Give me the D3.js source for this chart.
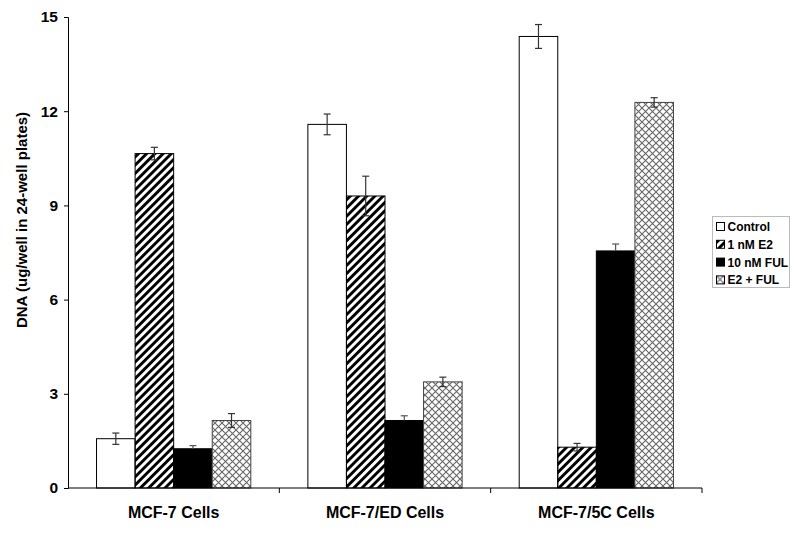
<!DOCTYPE html>
<html>
<head>
<meta charset="utf-8">
<script src="https://cdn.jsdelivr.net/npm/d3@7"></script>
<style>
  body { margin: 0; background: #fff; }
  text { font-family: "Liberation Sans", Arial, sans-serif; font-weight: bold; }
</style>
</head>
<body>
<div id="chart"></div>
<script>
// Data
var cellLines = ["MCF-7 Cells", "MCF-7/ED Cells", "MCF-7/5C Cells"];
var treatments = ["Control", "1 nM E2", "10 nM FUL", "E2 + FUL"];
var controlVals = [1.57, 11.58, 14.38];
var e2Vals = [10.65, 9.30, 1.30];
var fulVals = [1.25, 2.15, 7.55];
var e2fulVals = [2.15, 3.38, 12.28];
var controlErr = [0.18, 0.33, 0.38];
var e2Err = [0.2, 0.63, 0.12];
var fulErr = [0.1, 0.15, 0.22];
var e2fulErr = [0.22, 0.15, 0.15];
var yTicks = [0, 3, 6, 9, 12, 15];

var seriesVals = [controlVals, e2Vals, fulVals, e2fulVals];
var seriesErr = [controlErr, e2Err, fulErr, e2fulErr];
var fills = ["#fff", "url(#hatch)", "#000", "url(#cross)"];

var svgWidth = 800;
var svgHeight = 533;
var margin = { top: 17, right: 98, bottom: 45, left: 68 };
var width = svgWidth - margin.left - margin.right;
var height = svgHeight - margin.top - margin.bottom;

var root = d3.select("#chart")
    .append("svg")
        .attr("width", svgWidth)
        .attr("height", svgHeight);

// fill patterns
var defs = root.append("defs");
defs.append("pattern")
    .attr("id", "hatch")
    .attr("patternUnits", "userSpaceOnUse")
    .attr("width", 5.8).attr("height", 5.8)
    .attr("patternTransform", "rotate(45)")
  .append("rect")
    .attr("x", 0).attr("y", 0)
    .attr("width", 2.9).attr("height", 5.8)
    .attr("fill", "#000");
var cross = defs.append("pattern")
    .attr("id", "cross")
    .attr("patternUnits", "userSpaceOnUse")
    .attr("width", 7).attr("height", 7);
cross.append("rect").attr("width", 7).attr("height", 7).attr("fill", "#fff");
cross.append("path")
    .attr("d", "M0,0L7,7M7,0L0,7")
    .attr("stroke", "#666")
    .attr("stroke-width", 1.1);

var svg = root.append("g")
    .attr("transform", `translate(${margin.left}, ${margin.top})`);

// scales
var x0 = d3.scaleBand()
    .domain(cellLines)
    .range([0, width])
    .paddingInner(0.27)
    .paddingOuter(0.135);
var x1 = d3.scaleBand()
    .domain(d3.range(treatments.length))
    .range([0, x0.bandwidth()]);
var y = d3.scaleLinear()
    .domain([0, 15])
    .range([height, 0]);

// y axis
var yAxis = svg.append("g")
    .call(d3.axisLeft(y).tickValues(yTicks).tickSize(4).tickPadding(6));
yAxis.selectAll("text").style("font-size", "15.5px").attr("fill", "#000");
yAxis.select(".domain").attr("stroke", "#000");

svg.append("text")
    .attr("transform", "rotate(-90)")
    .attr("x", -(203))
    .attr("y", -41)
    .attr("text-anchor", "middle")
    .style("font-size", "15px")
    .text("DNA (ug/well in 24-well plates)");

// bars
seriesVals.forEach(function(vals, s) {
    var g = svg.append("g");
    g.selectAll("rect")
        .data(vals)
        .enter()
        .append("rect")
        .attr("x", function(d, i) { return x0(cellLines[i]) + x1(s); })
        .attr("y", function(d) { return y(d); })
        .attr("width", x1.bandwidth())
        .attr("height", function(d) { return height - y(d); })
        .attr("fill", fills[s])
        .attr("stroke", s == 3 ? "#444" : "#000")
        .attr("stroke-width", 1);

    // error bars
    var cx = function(i) { return x0(cellLines[i]) + x1(s) + x1.bandwidth() / 2; };
    vals.forEach(function(d, i) {
        var e = seriesErr[s][i];
        var c = cx(i);
        var color = s == 2 ? "#555" : "#333";
        var lo = s == 2 ? d : d - e;
        g.append("line")
            .attr("x1", c).attr("x2", c)
            .attr("y1", y(d + e)).attr("y2", y(lo))
            .attr("stroke", color).attr("stroke-width", 1.2);
        g.append("line")
            .attr("x1", c - 3.5).attr("x2", c + 3.5)
            .attr("y1", y(d + e)).attr("y2", y(d + e))
            .attr("stroke", color).attr("stroke-width", 1.2);
        if (s != 2) {
            g.append("line")
                .attr("x1", c - 3.5).attr("x2", c + 3.5)
                .attr("y1", y(d - e)).attr("y2", y(d - e))
                .attr("stroke", color).attr("stroke-width", 1.2);
        }
    });
});

// x axis with ticks at category boundaries
var xg = svg.append("g")
    .attr("transform", "translate(0," + height + ")");
xg.append("line")
    .attr("x1", 0).attr("x2", width)
    .attr("stroke", "#000");
xg.selectAll(".bound")
    .data(cellLines)
    .enter()
    .append("line")
    .attr("x1", function(d) { return x0(d) + x0.bandwidth() + x0.step() * 0.135; })
    .attr("x2", function(d) { return x0(d) + x0.bandwidth() + x0.step() * 0.135; })
    .attr("y1", 0).attr("y2", 5)
    .attr("stroke", "#000");
xg.selectAll(".cat")
    .data(cellLines)
    .enter()
    .append("text")
    .attr("x", function(d) { return x0(d) + x0.bandwidth() / 2; })
    .attr("y", 30)
    .attr("text-anchor", "middle")
    .style("font-size", "16px")
    .text(function(d) { return d; });

// legend
var legend = root.append("g")
    .attr("transform", "translate(712.5, 216.5)");
legend.append("rect")
    .attr("width", 77).attr("height", 71)
    .attr("fill", "#fff")
    .attr("stroke", "#bbb");
treatments.forEach(function(t, i) {
    var row = legend.append("g")
        .attr("transform", "translate(4," + (6 + i * 17.8) + ")");
    row.append("rect")
        .attr("width", 8).attr("height", 8)
        .attr("fill", fills[i])
        .attr("stroke", "#000");
    row.append("text")
        .attr("x", 11).attr("y", 8.5)
        .style("font-size", "12px")
        .text(t);
});
</script>
</body>
</html>
